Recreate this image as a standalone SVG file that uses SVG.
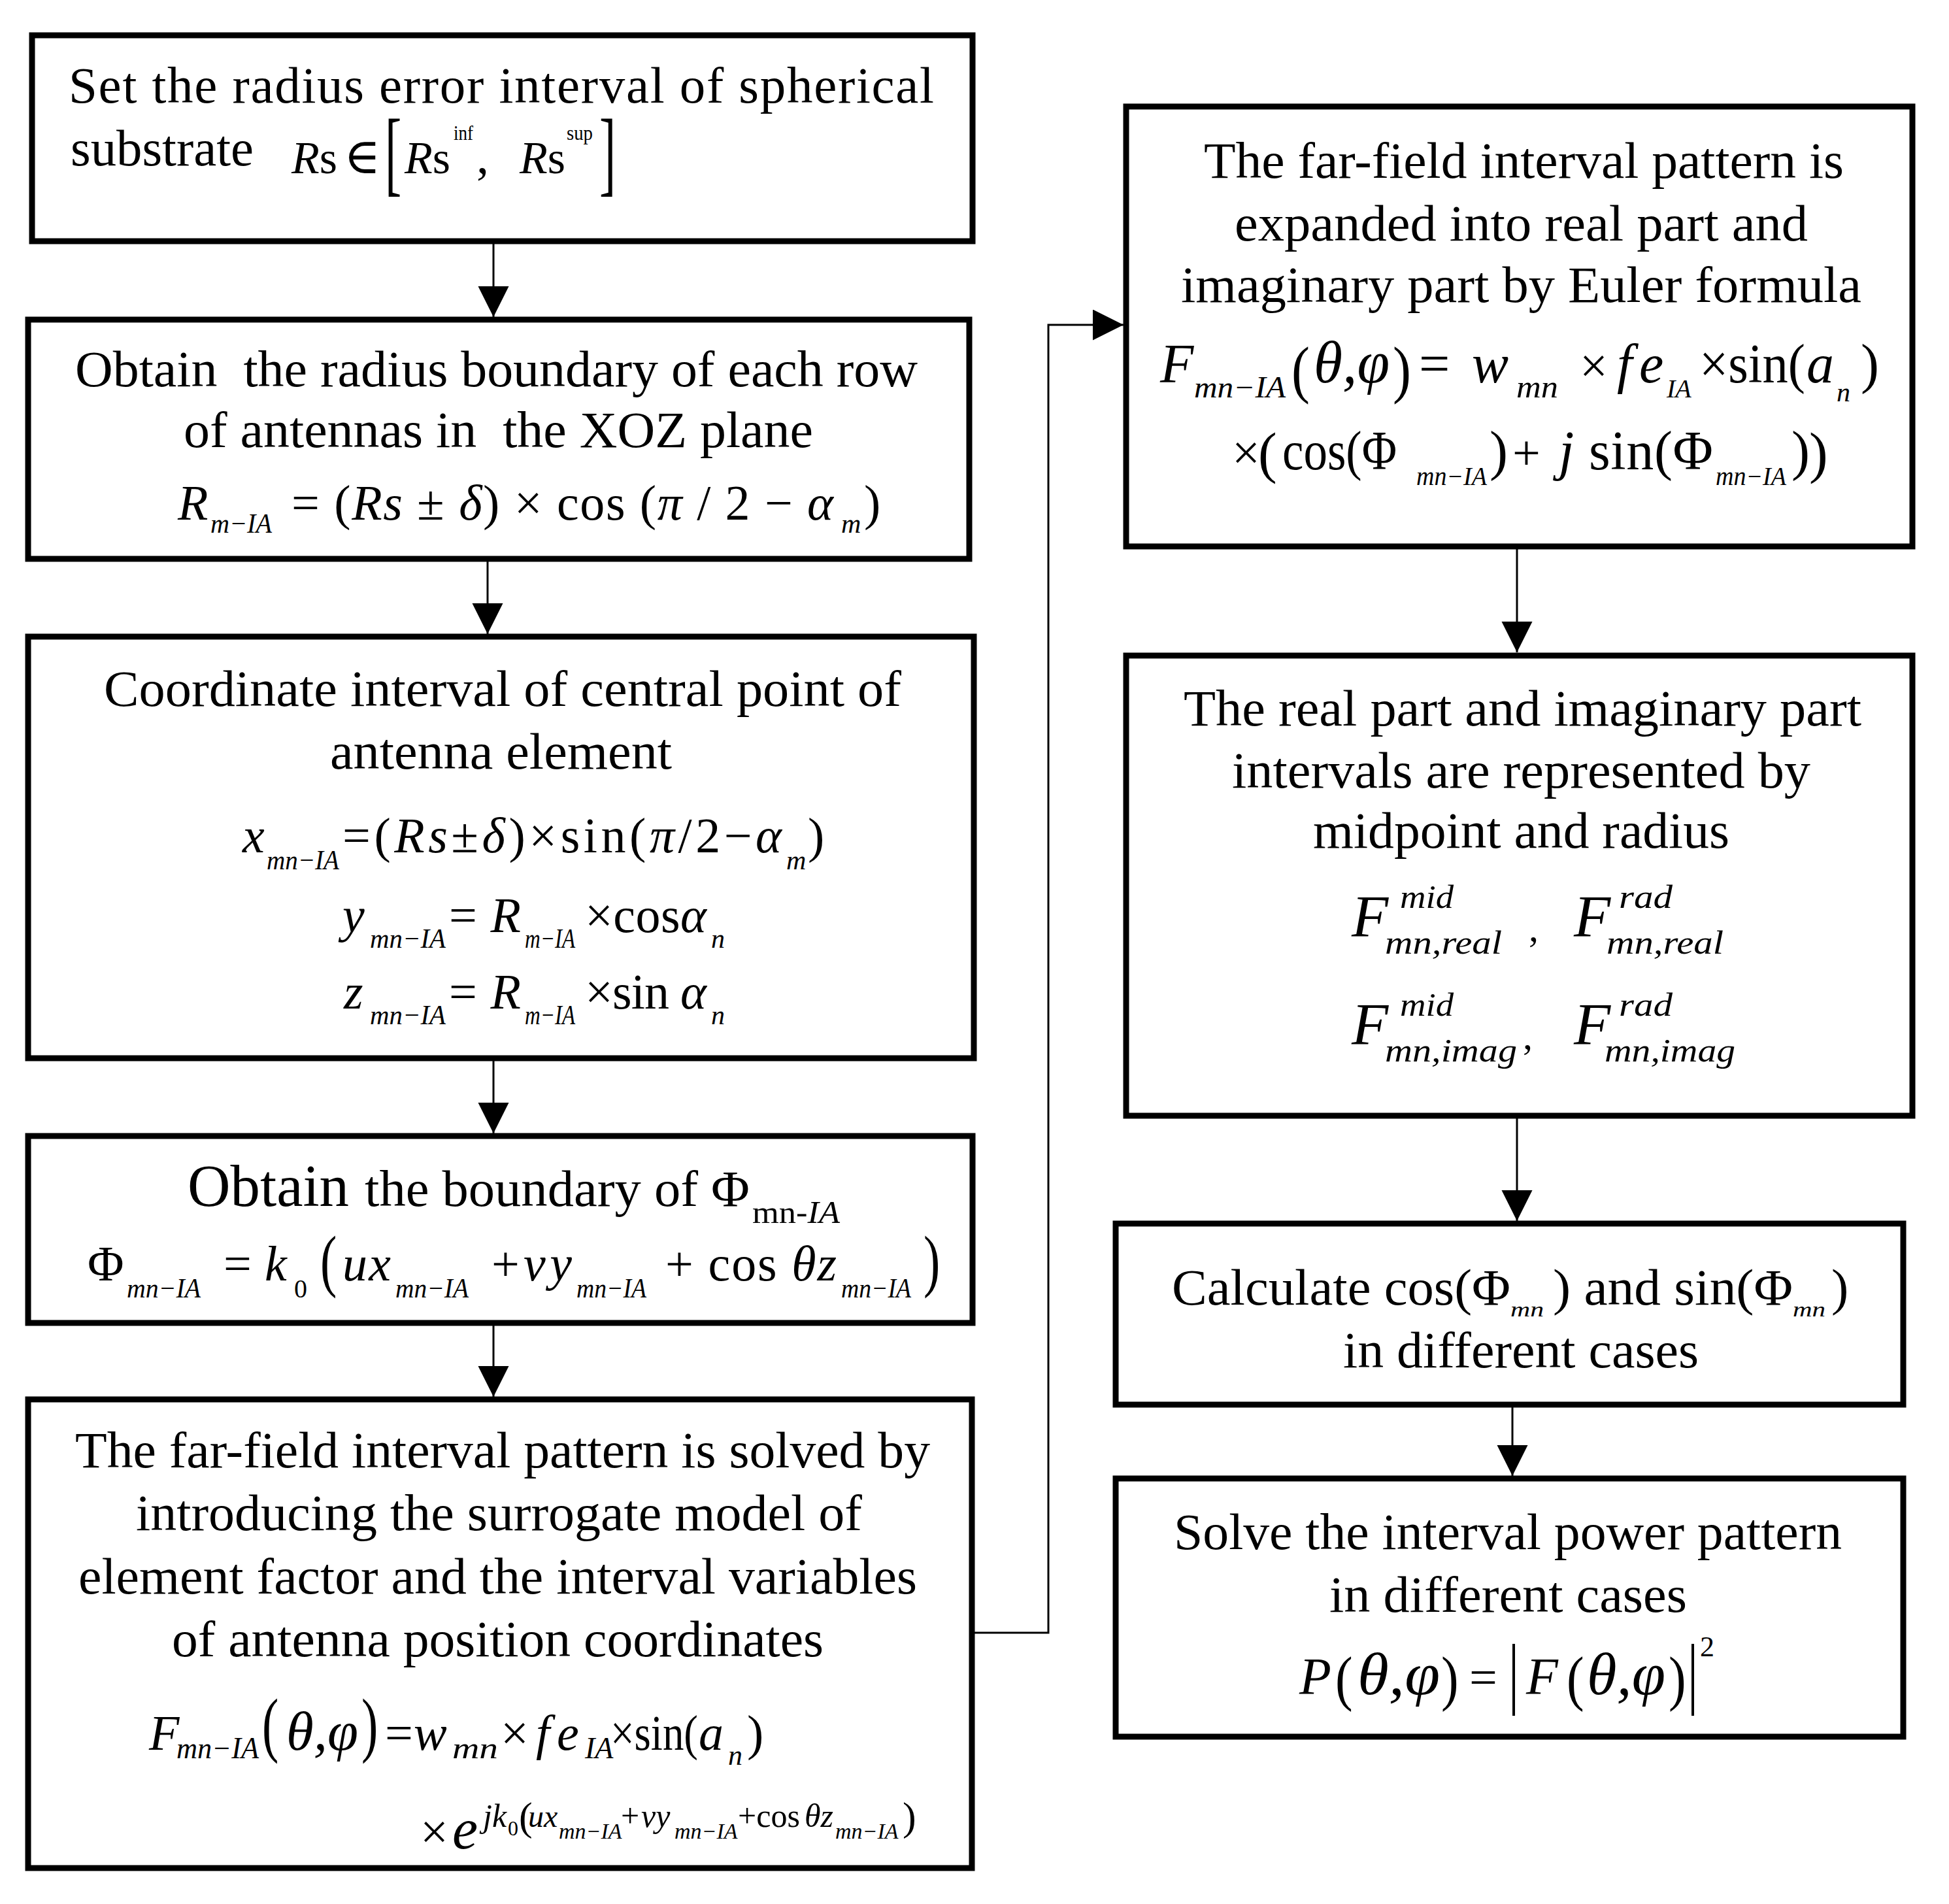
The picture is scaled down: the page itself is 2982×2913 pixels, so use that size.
<svg xmlns="http://www.w3.org/2000/svg" width="2982" height="2913" viewBox="0 0 2982 2913">
<style>
.box{fill:#fff;stroke:#000;stroke-width:9}
.ln{fill:none;stroke:#000;stroke-width:3}
text{font-family:"Liberation Serif","Times New Roman","DejaVu Serif",serif;fill:#000}
.t{font-size:79px}
.m{font-size:76px}
.i{font-style:italic}
.s{font-size:42px;font-style:italic}
.p{font-size:76px}
</style>
<defs>
<marker id="ah" markerUnits="userSpaceOnUse" markerWidth="48" markerHeight="48" refX="47" refY="23.5" orient="auto">
<path d="M0,0 L47,23.5 L0,47 z" fill="#000"/>
</marker>
</defs>
<rect width="2982" height="2913" fill="#fff"/>

<g id="connectors">
<line class="ln" x1="755" y1="369" x2="755" y2="485" marker-end="url(#ah)"/>
<line class="ln" x1="746" y1="855" x2="746" y2="970" marker-end="url(#ah)"/>
<line class="ln" x1="755" y1="1619" x2="755" y2="1734" marker-end="url(#ah)"/>
<line class="ln" x1="755" y1="2024" x2="755" y2="2137" marker-end="url(#ah)"/>
<polyline class="ln" points="1487,2498 1604,2498 1604,497 1719,497" marker-end="url(#ah)"/>
<line class="ln" x1="2321" y1="836" x2="2321" y2="998" marker-end="url(#ah)"/>
<line class="ln" x1="2321" y1="1707" x2="2321" y2="1868" marker-end="url(#ah)"/>
<line class="ln" x1="2314" y1="2149" x2="2314" y2="2258" marker-end="url(#ah)"/>
</g>

<g id="n1">
<rect class="box" x="49" y="54" width="1439" height="315"/>
<text class="t" x="105" y="157" textLength="1324" lengthAdjust="spacing">Set the radius error interval of spherical</text>
<text class="t" x="108" y="253" textLength="280" lengthAdjust="spacingAndGlyphs">substrate</text>
<text x="446" y="265" style="font-size:70px"><tspan class="i">R</tspan>s</text>
<text class="m" x="526" y="265">∈</text>
<text class="p" transform="translate(589,282) scale(1,1.89)">[</text>
<text x="619" y="265" style="font-size:70px"><tspan class="i">R</tspan>s</text>
<text x="694" y="214" style="font-size:32px" textLength="30" lengthAdjust="spacingAndGlyphs">inf</text>
<text class="m" x="729" y="265">,</text>
<text x="795" y="265" style="font-size:70px"><tspan class="i">R</tspan>s</text>
<text x="867" y="214" style="font-size:32px" textLength="40" lengthAdjust="spacingAndGlyphs">sup</text>
<text class="p" transform="translate(917,282) scale(1,1.89)">]</text>
</g>

<g id="n2">
<rect class="box" x="43" y="489" width="1440" height="366"/>
<text class="t" x="115" y="591" textLength="1289" lengthAdjust="spacingAndGlyphs" xml:space="preserve">Obtain  the radius boundary of each row</text>
<text class="t" x="281" y="684" textLength="963" lengthAdjust="spacingAndGlyphs" xml:space="preserve">of antennas in  the XOZ plane</text>
<text class="m i" x="272" y="795">R</text>
<text class="s" x="322" y="815" textLength="94" lengthAdjust="spacingAndGlyphs">m−IA</text>
<text class="m" x="446" y="795" textLength="829" lengthAdjust="spacing">= (<tspan class="i">Rs</tspan> ± <tspan class="i">δ</tspan>) × cos (<tspan class="i">π</tspan> / 2 − <tspan class="i">α</tspan></text>
<text class="s" x="1287" y="815">m</text>
<text class="m" x="1322" y="795">)</text>
</g>

<g id="n3">
<rect class="box" x="43" y="974" width="1447" height="645"/>
<text class="t" x="159" y="1080" textLength="1220" lengthAdjust="spacingAndGlyphs">Coordinate interval of central point of</text>
<text class="t" x="505" y="1176" textLength="523" lengthAdjust="spacingAndGlyphs">antenna element</text>
<text class="m i" x="371" y="1304">x</text>
<text class="s" x="408" y="1330" textLength="111" lengthAdjust="spacingAndGlyphs">mn−IA</text>
<text class="m" x="524" y="1304" textLength="672" lengthAdjust="spacing">=(<tspan class="i">Rs</tspan>±<tspan class="i">δ</tspan>)×sin(<tspan class="i">π</tspan>/2−<tspan class="i">α</tspan></text>
<text class="s" x="1203" y="1330">m</text>
<text class="m" x="1236" y="1304">)</text>
<text class="m i" x="524" y="1426">y</text>
<text class="s" x="566" y="1450" textLength="116" lengthAdjust="spacingAndGlyphs">mn−IA</text>
<text class="m" x="687" y="1426" textLength="110" lengthAdjust="spacing">=<tspan class="i">R</tspan></text>
<text class="s" x="803" y="1450" textLength="77" lengthAdjust="spacingAndGlyphs">m−IA</text>
<text class="m" x="895" y="1426" textLength="186" lengthAdjust="spacing">×cos<tspan class="i">α</tspan></text>
<text class="s" x="1088" y="1450">n</text>
<text class="m i" x="526" y="1543">z</text>
<text class="s" x="566" y="1567" textLength="116" lengthAdjust="spacingAndGlyphs">mn−IA</text>
<text class="m" x="687" y="1543" textLength="110" lengthAdjust="spacing">=<tspan class="i">R</tspan></text>
<text class="s" x="803" y="1567" textLength="77" lengthAdjust="spacingAndGlyphs">m−IA</text>
<text class="m" x="895" y="1543" textLength="186" lengthAdjust="spacing">×sin <tspan class="i">α</tspan></text>
<text class="s" x="1088" y="1567">n</text>
</g>

<g id="n4">
<rect class="box" x="43" y="1738" width="1445" height="286"/>
<text x="287" y="1845" style="font-size:90px" textLength="247" lengthAdjust="spacingAndGlyphs">Obtain</text>
<text class="t" x="558" y="1845" textLength="589" lengthAdjust="spacingAndGlyphs">the boundary of Φ</text>
<text x="1151" y="1871" style="font-size:48px" textLength="134" lengthAdjust="spacingAndGlyphs">mn-<tspan class="i">IA</tspan></text>
<text class="m" x="134" y="1959">Φ</text>
<text class="s" x="194" y="1985" textLength="113" lengthAdjust="spacingAndGlyphs">mn−IA</text>
<text class="m" x="342" y="1959">=</text>
<text class="m i" x="405" y="1959">k</text>
<text x="450" y="1985" style="font-size:40px">0</text>
<text class="p" transform="translate(490,1964) scale(1,1.4)">(</text>
<text class="m i" x="524" y="1959" textLength="74" lengthAdjust="spacing">ux</text>
<text class="s" x="605" y="1985" textLength="112" lengthAdjust="spacingAndGlyphs">mn−IA</text>
<text class="m" x="752" y="1959">+</text>
<text class="m i" x="801" y="1959" textLength="74" lengthAdjust="spacing">vy</text>
<text class="s" x="882" y="1985" textLength="107" lengthAdjust="spacingAndGlyphs">mn−IA</text>
<text class="m" x="1018" y="1959" textLength="262" lengthAdjust="spacing">+ cos <tspan class="i">θz</tspan></text>
<text class="s" x="1287" y="1985" textLength="107" lengthAdjust="spacingAndGlyphs">mn−IA</text>
<text class="p" transform="translate(1413,1964) scale(1,1.4)">)</text>
</g>

<g id="n5">
<rect class="box" x="43" y="2141" width="1444" height="717"/>
<text class="t" x="115" y="2245" textLength="1308" lengthAdjust="spacingAndGlyphs">The far-field interval pattern is solved by</text>
<text class="t" x="208" y="2341" textLength="1111" lengthAdjust="spacingAndGlyphs">introducing the surrogate model of</text>
<text class="t" x="120" y="2438" textLength="1283" lengthAdjust="spacingAndGlyphs">element factor and the interval variables</text>
<text class="t" x="263" y="2534" textLength="997" lengthAdjust="spacingAndGlyphs">of antenna position coordinates</text>
<text class="m i" x="228" y="2677">F</text>
<text class="s" x="270" y="2690" style="font-size:46px" textLength="126" lengthAdjust="spacingAndGlyphs">mn−IA</text>
<text class="p" transform="translate(401,2675) scale(1,1.45)">(</text>
<text class="i" x="438" y="2677" style="font-size:84px" textLength="110" lengthAdjust="spacingAndGlyphs">θ,φ</text>
<text class="p" transform="translate(553,2675) scale(1,1.45)">)</text>
<text class="m" x="589" y="2677">=</text>
<text class="m i" x="633" y="2677">w</text>
<text class="s" x="692" y="2690" style="font-size:46px" textLength="70" lengthAdjust="spacingAndGlyphs">mn</text>
<text class="m" x="766" y="2677">×</text>
<text class="m i" x="820" y="2677">f</text>
<text class="m i" x="852" y="2677">e</text>
<text class="s" x="895" y="2690" style="font-size:46px">IA</text>
<text class="m" x="934" y="2677" textLength="134" lengthAdjust="spacingAndGlyphs">×sin(</text>
<text class="m" y="2677"><tspan x="1069" class="i">a</tspan><tspan x="1114" y="2700" class="i" style="font-size:44px">n</tspan><tspan x="1143" y="2677">)</tspan></text>
<text class="m" x="643" y="2828">×</text>
<text x="692" y="2828" style="font-size:88px" class="i">e</text>
<text style="font-size:50px"><tspan x="739" y="2795" class="i">jk</tspan><tspan x="777" y="2808" style="font-size:32px">0</tspan><tspan x="794" y="2800" style="font-size:62px">(</tspan><tspan x="808" y="2795" class="i" style="font-size:48px">ux</tspan><tspan x="855" y="2813" class="i" style="font-size:34px">mn−IA</tspan><tspan x="950" y="2795">+</tspan><tspan x="981" y="2795" class="i">vy</tspan><tspan x="1032" y="2813" class="i" style="font-size:34px">mn−IA</tspan><tspan x="1129" y="2795">+cos</tspan><tspan x="1231" y="2795" class="i">θz</tspan><tspan x="1278" y="2813" class="i" style="font-size:34px">mn−IA</tspan><tspan x="1381" y="2800" style="font-size:62px">)</tspan></text>
</g>

<g id="n6">
<rect class="box" x="1723" y="163" width="1203" height="673"/>
<text class="t" x="1842" y="272" textLength="979" lengthAdjust="spacingAndGlyphs">The far-field interval pattern is</text>
<text class="t" x="1889" y="368" textLength="877" lengthAdjust="spacingAndGlyphs">expanded into real part and</text>
<text class="t" x="1807" y="462" textLength="1041" lengthAdjust="spacingAndGlyphs">imaginary part by Euler formula</text>
<text class="i" x="1775" y="585" style="font-size:84px">F</text>
<text class="s" x="1827" y="608" style="font-size:46px" textLength="140" lengthAdjust="spacingAndGlyphs">mn−IA</text>
<text style="font-size:84px" transform="translate(1976,598) scale(1,1.15)">(</text>
<text class="i" x="2010" y="585" style="font-size:90px" textLength="116" lengthAdjust="spacingAndGlyphs">θ,φ</text>
<text style="font-size:84px" transform="translate(2131,598) scale(1,1.15)">)</text>
<text x="2171" y="585" style="font-size:84px">=</text>
<text class="i" x="2252" y="585" style="font-size:84px">w</text>
<text class="s" x="2320" y="608" style="font-size:48px" textLength="64" lengthAdjust="spacingAndGlyphs">mn</text>
<text x="2417" y="585" style="font-size:76px">×</text>
<text class="i" x="2474" y="585" style="font-size:84px">f</text>
<text class="i" x="2508" y="585" style="font-size:84px">e</text>
<text class="s" x="2550" y="608" style="font-size:40px">IA</text>
<text x="2600" y="585" style="font-size:84px" textLength="162" lengthAdjust="spacingAndGlyphs">×sin(</text>
<text style="font-size:84px" y="585"><tspan x="2764" class="i">a</tspan><tspan x="2810" y="614" class="i" style="font-size:42px">n</tspan><tspan x="2847" y="585">)</tspan></text>
<text x="1885" y="718" style="font-size:76px">×</text>
<text x="1925" y="722" style="font-size:86px">(</text>
<text x="1962" y="718" style="font-size:84px" textLength="175" lengthAdjust="spacingAndGlyphs">cos(Φ</text>
<text class="s" x="2167" y="742" style="font-size:40px" textLength="108" lengthAdjust="spacingAndGlyphs">mn−IA</text>
<text x="2279" y="718" style="font-size:84px">)</text>
<text x="2314" y="718" style="font-size:76px">+</text>
<text class="i" x="2385" y="718" style="font-size:84px">j</text>
<text x="2431" y="718" style="font-size:84px" textLength="190" lengthAdjust="spacing">sin(Φ</text>
<text class="s" x="2625" y="742" style="font-size:40px" textLength="108" lengthAdjust="spacingAndGlyphs">mn−IA</text>
<text x="2741" y="718" style="font-size:84px">)</text>
<text x="2768" y="722" style="font-size:86px">)</text>
</g>

<g id="n7">
<rect class="box" x="1723" y="1003" width="1203" height="704"/>
<text class="t" x="1811" y="1110" textLength="1037" lengthAdjust="spacingAndGlyphs">The real part and imaginary part</text>
<text class="t" x="1885" y="1205" textLength="885" lengthAdjust="spacingAndGlyphs">intervals are represented by</text>
<text class="t" x="2009" y="1297" textLength="637" lengthAdjust="spacingAndGlyphs">midpoint and radius</text>
<text class="i" x="2068" y="1433" style="font-size:92px">F</text>
<text class="s" x="2142" y="1389" style="font-size:50px" textLength="82" lengthAdjust="spacingAndGlyphs">mid</text>
<text class="s" x="2119" y="1459" style="font-size:50px" textLength="179" lengthAdjust="spacingAndGlyphs">mn,real</text>
<text x="2339" y="1440" style="font-size:60px">,</text>
<text class="i" x="2408" y="1433" style="font-size:92px">F</text>
<text class="s" x="2477" y="1389" style="font-size:50px" textLength="82" lengthAdjust="spacingAndGlyphs">rad</text>
<text class="s" x="2458" y="1459" style="font-size:50px" textLength="179" lengthAdjust="spacingAndGlyphs">mn,real</text>
<text class="i" x="2068" y="1598" style="font-size:92px">F</text>
<text class="s" x="2142" y="1554" style="font-size:50px" textLength="82" lengthAdjust="spacingAndGlyphs">mid</text>
<text class="s" x="2119" y="1624" style="font-size:50px" textLength="202" lengthAdjust="spacingAndGlyphs">mn,imag</text>
<text x="2330" y="1605" style="font-size:60px">,</text>
<text class="i" x="2408" y="1598" style="font-size:92px">F</text>
<text class="s" x="2477" y="1554" style="font-size:50px" textLength="82" lengthAdjust="spacingAndGlyphs">rad</text>
<text class="s" x="2455" y="1624" style="font-size:50px" textLength="200" lengthAdjust="spacingAndGlyphs">mn,imag</text>
</g>

<g id="n8">
<rect class="box" x="1707" y="1872" width="1205" height="277"/>
<text class="t" x="1793" y="1996" textLength="518" lengthAdjust="spacingAndGlyphs">Calculate cos(Φ</text>
<text class="s" x="2311" y="2014" style="font-size:32px" textLength="51" lengthAdjust="spacingAndGlyphs">mn</text>
<text class="t" x="2376" y="1996" textLength="367" lengthAdjust="spacingAndGlyphs">) and sin(Φ</text>
<text class="s" x="2743" y="2014" style="font-size:32px" textLength="50" lengthAdjust="spacingAndGlyphs">mn</text>
<text class="t" x="2802" y="1996">)</text>
<text class="t" x="2055" y="2092" textLength="544" lengthAdjust="spacingAndGlyphs">in different cases</text>
</g>

<g id="n9">
<rect class="box" x="1707" y="2262" width="1205" height="395"/>
<text class="t" x="1796" y="2370" textLength="1022" lengthAdjust="spacingAndGlyphs">Solve the interval power pattern</text>
<text class="t" x="2034" y="2466" textLength="547" lengthAdjust="spacingAndGlyphs">in different cases</text>
<text class="i" x="1988" y="2592" style="font-size:80px">P</text>
<text style="font-size:80px" transform="translate(2043,2599) scale(1,1.17)">(</text>
<text class="i" x="2077" y="2592" style="font-size:90px" textLength="126" lengthAdjust="spacingAndGlyphs">θ,φ</text>
<text style="font-size:80px" transform="translate(2205,2599) scale(1,1.17)">)</text>
<text x="2248" y="2592" style="font-size:76px">=</text>
<text style="font-size:80px" transform="translate(2308,2599) scale(1,1.5)">|</text>
<text class="i" x="2335" y="2592" style="font-size:80px">F</text>
<text style="font-size:80px" transform="translate(2397,2599) scale(1,1.17)">(</text>
<text class="i" x="2428" y="2592" style="font-size:90px" textLength="120" lengthAdjust="spacingAndGlyphs">θ,φ</text>
<text style="font-size:80px" transform="translate(2553,2599) scale(1,1.17)">)</text>
<text style="font-size:80px" transform="translate(2582,2599) scale(1,1.5)">|</text>
<text x="2601" y="2534" style="font-size:44px">2</text>
</g>
</svg>
